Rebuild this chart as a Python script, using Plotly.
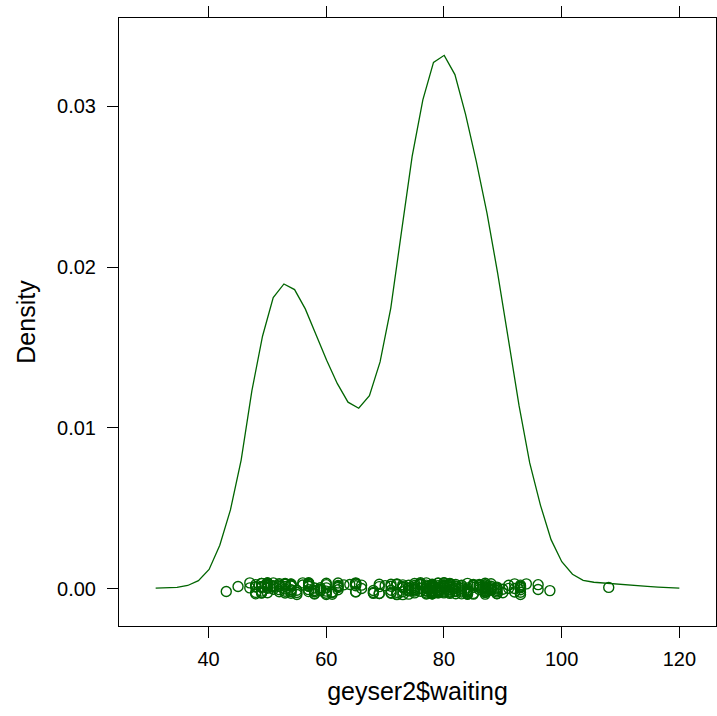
import plotly.graph_objects as go

# Density curve (50 evaluation points)
grid_x = [31.00, 32.82, 34.63, 36.45, 38.27, 40.08, 41.90, 43.71, 45.53, 47.35,
          49.16, 50.98, 52.80, 54.61, 56.43, 58.24, 60.06, 61.88, 63.69, 65.51,
          67.33, 69.14, 70.96, 72.78, 74.59, 76.41, 78.22, 80.04, 81.86, 83.67,
          85.49, 87.31, 89.12, 90.94, 92.76, 94.57, 96.39, 98.20, 100.02, 101.84,
          103.65, 105.47, 107.29, 109.10, 110.92, 112.73, 114.55, 116.37, 118.18, 120.00]
density = [0.00003, 0.00005, 0.00008, 0.00020, 0.00050, 0.00120, 0.00270, 0.00490, 0.00800, 0.01230,
           0.01570, 0.01810, 0.01895, 0.01860, 0.01740, 0.01580, 0.01420, 0.01275, 0.01160, 0.01122,
           0.01200, 0.01410, 0.01745, 0.02220, 0.02688, 0.03040, 0.03273, 0.03317, 0.03197, 0.02950,
           0.02657, 0.02336, 0.01963, 0.01552, 0.01138, 0.00782, 0.00520, 0.00305, 0.00168, 0.00090,
           0.00052, 0.00040, 0.00034, 0.00029, 0.00025, 0.00020, 0.00014, 0.00010, 0.00005, 0.00003]

# Observed waiting times (points along the bottom)
waiting = [80, 71, 57, 80, 75, 77, 60, 86, 77, 56,
           81, 50, 89, 54, 90, 73, 60, 83, 65, 82,
           84, 54, 85, 58, 79, 57, 88, 68, 76, 78,
           74, 85, 75, 65, 76, 58, 91, 50, 87, 48,
           93, 54, 86, 53, 78, 52, 83, 60, 87, 49,
           80, 60, 92, 43, 89, 60, 84, 69, 74, 71,
           108, 50, 77, 57, 80, 61, 82, 48, 81, 73,
           62, 79, 54, 80, 73, 81, 62, 81, 71, 79,
           81, 74, 59, 81, 66, 87, 53, 80, 50, 87,
           51, 82, 58, 81, 49, 92, 50, 88, 62, 93,
           56, 89, 51, 79, 58, 82, 52, 88, 52, 78,
           69, 75, 77, 53, 80, 55, 87, 53, 85, 61,
           93, 54, 76, 80, 81, 59, 86, 78, 71, 77,
           76, 94, 75, 50, 83, 82, 72, 77, 75, 65,
           79, 72, 78, 77, 79, 75, 78, 64, 80, 49,
           88, 54, 85, 51, 96, 50, 80, 78, 81, 72,
           75, 78, 87, 69, 55, 83, 49, 82, 57, 84,
           57, 84, 73, 78, 57, 79, 57, 90, 62, 87,
           78, 52, 98, 48, 78, 79, 65, 84, 50, 83,
           60, 80, 50, 88, 50, 84, 74, 76, 65, 89,
           49, 88, 51, 78, 85, 65, 75, 77, 69, 92,
           68, 87, 61, 81, 55, 93, 53, 84, 70, 73,
           93, 50, 87, 77, 74, 72, 82, 74, 80, 49,
           91, 53, 86, 49, 79, 89, 87, 76, 59, 80,
           89, 45, 93, 72, 71, 54, 79, 74, 65, 78,
           57, 87, 72, 84, 47, 84, 57, 87, 68, 86,
           75, 73, 53, 82, 93, 77, 54, 96, 48, 89,
           63, 84, 76, 62, 83, 50, 85, 78, 78, 81,
           78, 76, 74, 81, 66, 84, 48, 93, 47, 87,
           51, 78, 54, 87, 52, 85, 58, 88, 79]

# Vertical jitter of each point (units of 1e-5 density)
jitter_1e5 = [12, -25, 31, -8, 20, -33, 5, 27, -14, 36,
              -21, 9, -30, 17, -3, 24, -36, 11, 33, -17,
              4, -28, 22, -11, 35, -6, 15, -24, 29, -1,
              -34, 19, 7, -19, 26, -29, 2, 32, -13, 10,
              -22, 28, -5, 14, -31, 23, -9, 34, 6, -26,
              18, -15, 30, -17, -2, 25, -35, 13, 21, -10,
              8, 3, -27, 16, 37, -20, 1, -32, 27, 11,
              -7, 33, -18, 24, -37, 9, 20, -4, 15, -23,
              31, -12, 6, -29, 22, 0, -16, 35, -25, 12,
              -3, 26, -33, 18, 7, -21, 29, -8, 14, -36,
              23, -11, 36, -27, 4, 17, -19, 31, -6, 25,
              -30, 10, -14, 28, 2, -24, 34, -1, 19, -35,
              16, -9, 27, -20, 33, -13, 8, 24, -28, 5,
              -16, 30, -4, 21, -32, 13, -23, 36, -7, 18,
              9, -37, 23, 1, -18, 32, -11, 26, -26, 14,
              -5, 20, -29, 11, 25, 35, -15, 6, -22, 30,
              -1, 17, -34, 28, -10, 21, -27, 3, 34, -12,
              27, -19, 12, -31, 19, -4, 37, -25, 7, 22,
              -13, 31, -12, -23, 15, -8, 29, -17, 24, 2,
              -28, 13, 35, -9, 20, -33, 5, 26, -20, 10,
              33, -2, 18, -26, 8, 36, -14, 22, -30, 1,
              -11, 25, -24, 16, -36, 11, 30, -6, 19, -19,
              6, 34, -21, 14, -8, 27, -31, 3, 23, -15,
              21, -27, 9, 32, -17, 4, -22, 37, -3, 16,
              -20, 14, 10, -35, 28, -7, 19, -13, 31, -24,
              15, -10, 26, -22, 5, 33, -18, 11, -29, 20,
              -26, 7, 32, -14, 22, -1, 29, -5, 13, -32,
              24, -16, 3, 35, -21, 17, -34, 8, 28, -9,
              -18, 30, -12, 19, 1, -28, 25, -7, 36, -23,
              11, -31, 21, -4, 14, 27, -19, 6, -11]

x_ticks = [40, 60, 80, 100, 120]
y_ticks = [0.0, 0.01, 0.02, 0.03]
y_tick_text = ["0.00", "0.01", "0.02", "0.03"]

GREEN = "#006400"
FONT = "Liberation Sans, Arial, Helvetica, sans-serif"

point_y = [j * 1e-5 for j in jitter_1e5]

fig = go.Figure()
fig.add_trace(go.Scatter(x=grid_x, y=density, mode="lines",
                         line=dict(color=GREEN, width=1.3), hoverinfo="skip"))
fig.add_trace(go.Scatter(x=waiting, y=point_y, mode="markers",
                         marker=dict(symbol="circle-open", size=10, color=GREEN,
                                     line=dict(width=1.4, color=GREEN)),
                         hoverinfo="skip"))

axis_common = dict(showgrid=False, zeroline=False, showline=True, linecolor="black",
                   linewidth=1, ticks="outside", ticklen=11, tickwidth=1,
                   tickcolor="black", mirror="ticks", automargin=False,
                   tickfont=dict(family=FONT, size=20, color="black"))

fig.update_layout(
    template="none",
    width=717, height=716,
    margin=dict(l=119, r=1, t=18, b=90, pad=0),
    paper_bgcolor="white", plot_bgcolor="white",
    showlegend=False,
    font=dict(family=FONT, color="black"),
    xaxis=dict(range=[24.77, 126.23], tickvals=x_ticks,
               title=dict(text="geyser2$waiting", font=dict(family=FONT, size=25, color="black"),
                          standoff=13),
               ticklabelstandoff=4,
               **axis_common),
    yaxis=dict(range=[-0.00232, 0.03549], tickvals=y_ticks, ticktext=y_tick_text,
               title=dict(text="Density", font=dict(family=FONT, size=25, color="black"),
                          standoff=14),
               ticklabelstandoff=7,
               **axis_common),
)

fig.write_html("out.html", config={"displayModeBar": False, "staticPlot": True},
               post_script="document.body.style.margin='0px';document.body.style.overflow='hidden';")
